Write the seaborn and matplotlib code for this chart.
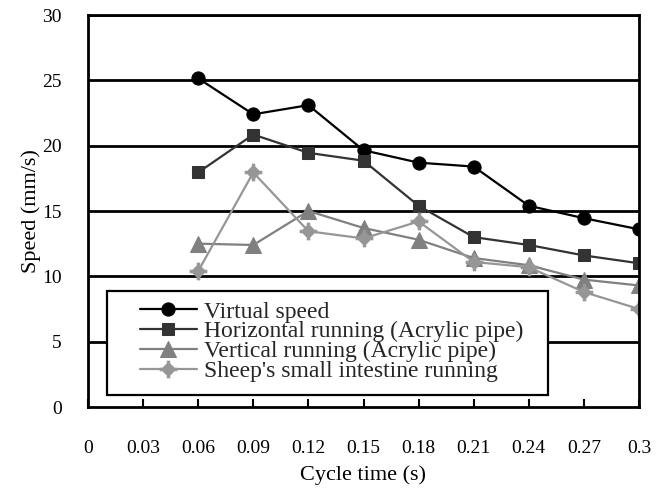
import matplotlib
matplotlib.use("Agg")
import matplotlib.pyplot as plt
from matplotlib.patches import Rectangle
from matplotlib.path import Path
import seaborn as sns
import pandas as pd

cycle_time = [0.06, 0.09, 0.12, 0.15, 0.18, 0.21, 0.24, 0.27, 0.30]
virtual_speed = [25.15, 22.4, 23.1, 19.65, 18.7, 18.4, 15.4, 14.45, 13.6]
horizontal_acrylic = [17.95, 20.85, 19.45, 18.85, 15.4, 13.0, 12.4, 11.6, 11.0]
vertical_acrylic = [12.5, 12.4, 15.0, 13.7, 12.8, 11.4, 10.85, 9.75, 9.3]
sheep_intestine = [10.4, 17.95, 13.45, 12.9, 14.2, 11.1, 10.7, 8.8, 7.5]

series_names = ["Virtual speed", "Horizontal running (Acrylic pipe)",
                "Vertical running (Acrylic pipe)", "Sheep's small intestine running"]
series_values = [virtual_speed, horizontal_acrylic, vertical_acrylic, sheep_intestine]

x_ticks = [0, 0.03, 0.06, 0.09, 0.12, 0.15, 0.18, 0.21, 0.24, 0.27, 0.3]
x_tick_labels = ["0", "0.03", "0.06", "0.09", "0.12", "0.15", "0.18", "0.21", "0.24", "0.27", "0.3"]
y_ticks = [0, 5, 10, 15, 20, 25, 30]

sns.set_theme(style="white")
plt.rcParams["font.family"] = ["Liberation Serif", "DejaVu Serif"]

# diamond with small plus-shaped nubs (Excel-like star marker)
w, d = 0.15, 0.85
star_verts = [(-w, 1), (w, 1), (w, d - w), (d - w, w), (1, w), (1, -w), (d - w, -w),
              (w, -(d - w)), (w, -1), (-w, -1), (-w, -(d - w)), (-(d - w), -w),
              (-1, -w), (-1, w), (-(d - w), w), (-w, d - w), (-w, 1)]
star_marker = Path(star_verts, closed=True)

styles = [
    dict(marker="o", color="#000000", ms=9.5),
    dict(marker="s", color="#333333", ms=9),
    dict(marker="^", color="#808080", ms=11),
    dict(marker=star_marker, color="#969696", ms=12),
]

fig = plt.figure(figsize=(6.62, 4.92), dpi=100)
ax = fig.add_axes([88 / 662, 1 - 407 / 492, (639 - 88) / 662, (407 - 15) / 492])

for name, vals, st in zip(series_names, series_values, styles):
    df = pd.DataFrame({"x": cycle_time, "y": vals})
    sns.lineplot(data=df, x="x", y="y", ax=ax, color=st["color"], marker=st["marker"],
                 markersize=st["ms"], markeredgecolor=st["color"], markerfacecolor=st["color"],
                 linewidth=1.6, label=name)

ax.set_xlim(0, 0.3)
ax.set_ylim(0, 30)
ax.set_xticks(x_ticks)
ax.set_xticklabels(x_tick_labels)
ax.set_yticks(y_ticks)
for y in y_ticks[1:]:
    ax.axhline(y, color="black", linewidth=2, zorder=0.5)

for sp in ax.spines.values():
    sp.set_visible(True)
    sp.set_color("black")
    sp.set_linewidth(2)

ax.tick_params(axis="x", direction="in", length=5.5, width=1.5, color="black",
               pad=24, labelsize=14, labelcolor="black", bottom=True)
ax.tick_params(axis="y", length=0, pad=19, labelsize=14, labelcolor="black", left=True)

ax.set_xlabel("Cycle time (s)", fontsize=16, color="black", labelpad=6)
ax.set_ylabel("Speed (mm/s)", fontsize=16, color="black", labelpad=1)

# legend frame (box) drawn separately, legend entries without frame
frame = Rectangle((0.0345, 0.0306), 0.8004, 0.2653, transform=ax.transAxes,
                  facecolor="white", edgecolor="black", linewidth=1.6, zorder=4)
ax.add_patch(frame)

leg = ax.legend(loc="upper left", bbox_to_anchor=(0.0944, 0.2704),
                fontsize=17, frameon=False, borderpad=0, labelspacing=-0.07,
                handlelength=2.4, handletextpad=0.3, borderaxespad=0)
leg.set_zorder(5)

fig.savefig("out.png", dpi=100)
